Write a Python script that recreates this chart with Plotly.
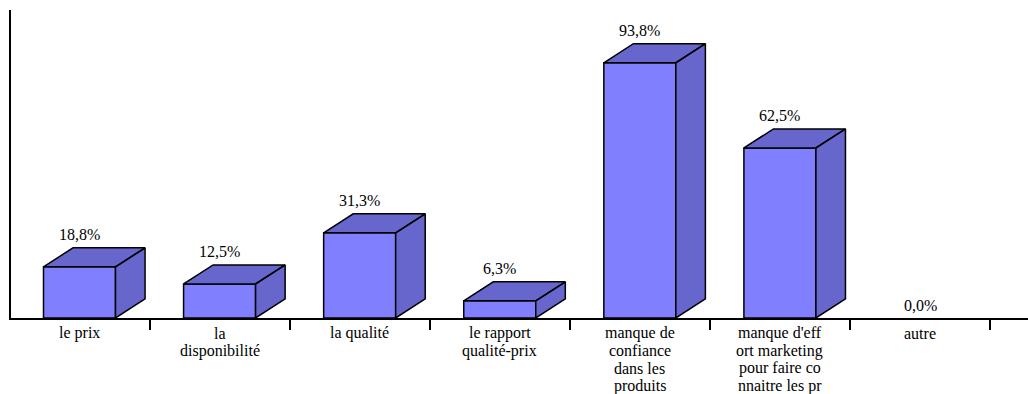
import plotly.graph_objects as go

categories = ["le prix", "la\ndisponibilité", "la qualité", "le rapport\nqualité-prix",
              "manque de\nconfiance\ndans les\nproduits",
              "manque d'eff\nort marketing\npour faire co\nnnaitre les pr", "autre"]
values = [18.8, 12.5, 31.3, 6.3, 93.8, 62.5, 0.0]
value_labels = ["18,8%", "12,5%", "31,3%", "6,3%", "93,8%", "62,5%", "0,0%"]

FRONT = "#8080FF"
SIDE = "#6666CC"
FONT = "'Liberation Serif', 'Times New Roman', 'DejaVu Serif', serif"
half_w = 0.257   # half bar width in category units
dx = 0.211       # 3D depth in category units
dy = 7.0         # 3D depth in value units

xs = list(range(len(values)))
fig = go.Figure()
fig.add_trace(go.Bar(x=xs, y=values, width=2 * half_w,
                     marker=dict(color=FRONT,
                                 line=dict(color="black",
                                           width=[1.5 if v > 0 else 0 for v in values])),
                     hoverinfo="skip"))

px_, py_ = [], []
for i, v in zip(xs, values):
    if v <= 0:
        continue
    x0, x1 = i - half_w, i + half_w
    # side face
    px_ += [x1, x1 + dx, x1 + dx, x1, x1, None]
    py_ += [0, dy, v + dy, v, 0, None]
    # top face
    px_ += [x0, x0 + dx, x1 + dx, x1, x0, None]
    py_ += [v, v + dy, v + dy, v, v, None]
fig.add_trace(go.Scatter(x=px_, y=py_, mode="lines", fill="toself", fillcolor=SIDE,
                         line=dict(color="black", width=1.5), hoverinfo="skip"))

ann = []
for i, v, lab in zip(xs, values, value_labels):
    ann.append(dict(x=i, y=v, xref="x", yref="y", text=lab, showarrow=False,
                    yanchor="middle", xanchor="center", yshift=32 if v > 0 else 13,
                    font=dict(family=FONT, size=16, color="black")))
for i, cat in zip(xs, categories):
    for j, line in enumerate(cat.split("\n")):
        ann.append(dict(x=i, y=0, xref="x", yref="y", text=line, showarrow=False,
                        yanchor="middle", xanchor="center", yshift=-(15 + 17.5 * j),
                        font=dict(family=FONT, size=16, color="black")))

fig.update_layout(
    width=1028, height=394,
    margin=dict(l=11, r=0, t=10, b=76),
    paper_bgcolor="white", plot_bgcolor="white",
    font=dict(family=FONT),
    showlegend=False, annotations=ann,
    xaxis=dict(range=[-0.489, 6.771], showgrid=False, zeroline=False,
               showline=True, linecolor="black", linewidth=1.5,
               tickvals=[i + 0.5 for i in xs], ticks="outside", ticklen=10,
               tickwidth=1.5, tickcolor="black", showticklabels=False),
    yaxis=dict(range=[0, 113.2], showgrid=False, zeroline=False,
               showline=True, linecolor="black", linewidth=2,
               ticks="", showticklabels=False),
)
fig.write_html("out.html")
